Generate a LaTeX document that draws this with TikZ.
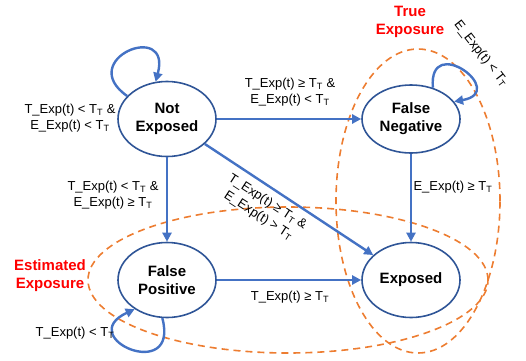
\documentclass[tikz,border=0pt]{standalone}
\usepackage{fontspec}
\setmainfont{Liberation Sans}
\usetikzlibrary{shapes.geometric,arrows.meta}
\definecolor{edgeblue}{RGB}{68,114,196}
\definecolor{ringblue}{RGB}{47,85,151}
\definecolor{setorange}{RGB}{237,125,49}
\newcommand{\TT}{T\textsubscript{T}}

\begin{document}
\begin{tikzpicture}[x=1pt,y=1pt,
	state/.style={ellipse,draw=ringblue,line width=1.6pt,fill=white,minimum width=98pt,minimum height=75pt,inner sep=0pt,align=center,font=\fontsize{15}{18}\selectfont\bfseries},
	trans/.style={draw=edgeblue,line width=2.4pt,-{Triangle[length=9pt,width=9pt]}},
	cond/.style={align=center,font=\fontsize{13}{16.5}\selectfont},
	region/.style={draw=setorange,line width=1.6pt,dash pattern=on 7pt off 5pt},
	setname/.style={align=center,text=red,font=\fontsize{15}{18}\selectfont\bfseries}]
	\useasboundingbox (0,0) rectangle (526,360);
	% the two dashed sets
	\draw[region] (418,159) ellipse [x radius=82, y radius=152];
	\draw[region] (288,80) ellipse [x radius=200, y radius=73];
	\node[setname] (trueset) at (410,338) {True\\Exposure};
	\node[setname] (estset) at (50,84) {Estimated\\Exposure};
	% states
	\node[state] (ne) at (167,241) {Not\\Exposed};
	\node[state,minimum height=68pt] (fn) at (411,241) {False\\Negative};
	\node[state] (fp) at (167,80) {False\\Positive};
	\node[state] (ex) at (411,80) {Exposed};
	% transitions
	\draw[trans] (ne) -- (fn);
	\draw[trans] (ne) -- (fp);
	\draw[trans] (ne) -- (ex);
	\draw[trans] (fn) -- (ex);
	\draw[trans] (fp) -- (ex);
	\draw[trans] (ne.150) to[out=145,in=75,distance=64pt] (ne.107);
	\draw[trans] (fn.55) to[out=95,in=10,distance=56pt] (fn.22);
	\draw[trans] (fp.-97) to[out=-75,in=-155,distance=68pt] (fp.-138);
	% conditions
	\node[cond] (cne) at (70,242) {T\_Exp(t) < \TT{} \&\\E\_Exp(t) < \TT};
	\node[cond] (cnefn) at (290,268) {T\_Exp(t) ≥ \TT{} \&\\E\_Exp(t) < \TT};
	\node[cond] (cnefp) at (113,165) {T\_Exp(t) < \TT{} \&\\E\_Exp(t) ≥ \TT};
	\node[cond,rotate=-33] (cneex) at (263,151) {T\_Exp(t) ≥ \TT{} \&\\E\_Exp(t) > \TT};
	\node[cond] (cfnex) at (453,173) {E\_Exp(t) ≥ \TT};
	\node[cond] (cfpex) at (290,63) {T\_Exp(t) ≥ \TT};
	\node[cond] (cfp) at (75,27) {T\_Exp(t) < \TT};
	\node[cond,rotate=-52] (cfn) at (481,306) {E\_Exp(t) < \TT};
\end{tikzpicture}
\end{document}
